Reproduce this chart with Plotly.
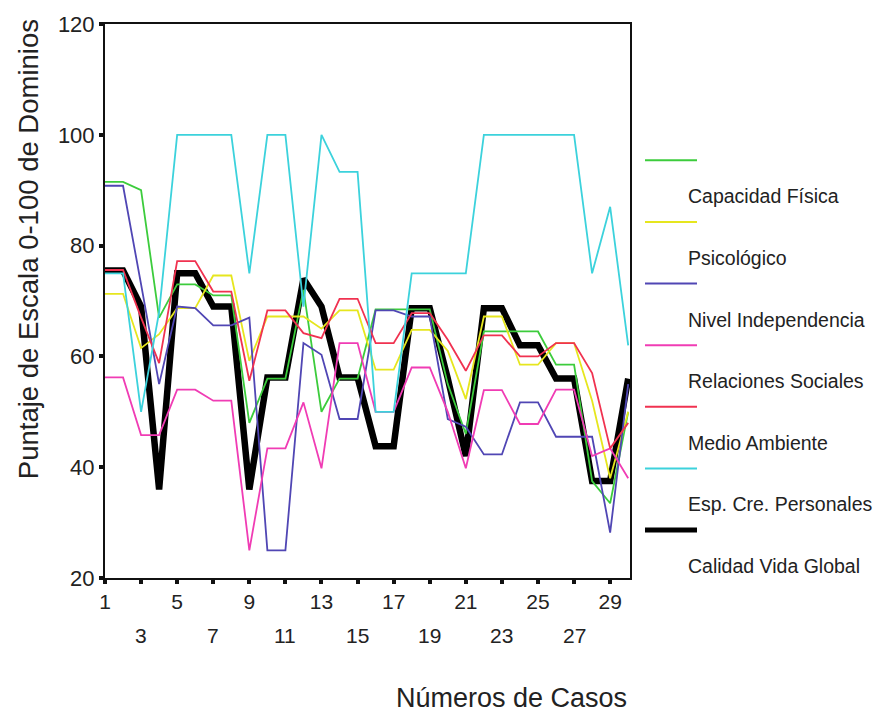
import plotly.graph_objects as go

cases = list(range(1, 31))

capacidad_fisica = [91.5, 91.5, 90, 67, 73, 73, 71, 71, 48, 56, 56, 72, 50, 56, 56,
                    68.5, 68.5, 68.5, 68.5, 55, 46, 64.5, 64.5, 64.5, 64.5, 58.5, 58.5, 37.5, 33.5, 50]
psicologico = [71.3, 71.3, 61.5, 64, 68.7, 68.7, 74.6, 74.6, 59.2, 67.2, 67.2, 67.2, 65, 68.3, 68.3,
               57.6, 57.6, 64.8, 64.8, 61, 52.3, 67.2, 67.2, 58.5, 58.5, 62.4, 62.4, 52, 38, 50]
nivel_independencia = [90.8, 90.8, 73, 55, 69, 68.7, 65.6, 65.6, 67, 25, 25, 62.4, 60.3, 48.7, 48.7,
                       68.3, 68.3, 67.2, 67.2, 48.7, 47.3, 42.3, 42.3, 51.7, 51.7, 45.5, 45.5, 45.5, 28.2, 55]
relaciones_sociales = [56.2, 56.2, 45.8, 45.8, 54, 54, 52, 52, 25, 43.4, 43.4, 51.7, 39.8, 62.4, 62.4,
                       50, 50, 58, 58, 50, 39.8, 53.9, 53.9, 47.8, 47.8, 54, 54, 42, 43.4, 38]
medio_ambiente = [75.6, 75.6, 67, 58.8, 77.2, 77.2, 71.7, 71.7, 55.6, 68.3, 68.3, 64.2, 63.3, 70.4, 70.4,
                  62.4, 62.4, 67.8, 67.8, 63, 57.4, 63.8, 63.8, 60, 60, 62.4, 62.4, 57, 43.4, 48]
esp_personales = [75, 75, 50, 68, 100, 100, 100, 100, 75, 100, 100, 69, 100, 93.3, 93.3,
                  50, 50, 75, 75, 75, 75, 100, 100, 100, 100, 100, 100, 75, 87, 62]
calidad_global = [75.5, 75.5, 69, 36, 75, 75, 69, 69, 36, 56.2, 56.2, 74, 69, 56.2, 56.2,
                  43.8, 43.8, 68.7, 68.7, 56, 42, 68.7, 68.7, 62, 62, 56, 56, 37.5, 37.5, 56]

series_names = ["Capacidad Física", "Psicológico", "Nivel Independencia", "Relaciones Sociales",
                "Medio Ambiente", "Esp. Cre. Personales", "Calidad Vida Global"]
series_values = [capacidad_fisica, psicologico, nivel_independencia, relaciones_sociales,
                 medio_ambiente, esp_personales, calidad_global]
series_colors = ["#3ccc3c", "#e6e61e", "#5046b4", "#f03cb4", "#f03250", "#3cd2dc", "#000000"]
series_widths = [1.8, 1.8, 1.8, 1.8, 1.8, 1.8, 6.5]

x_tick_vals = list(range(1, 30, 2))
x_tick_labels = [str(v) for v in x_tick_vals]
y_tick_vals = [20, 40, 60, 80, 100, 120]

FONT = "Arial, Liberation Sans, sans-serif"

fig = go.Figure()
# black (global) drawn first, coloured lines on top
draw_order = [6, 0, 1, 2, 3, 4, 5]
for i in draw_order:
    fig.add_trace(go.Scatter(x=cases, y=series_values[i], mode="lines", name=series_names[i],
                             line=dict(color=series_colors[i], width=series_widths[i]),
                             showlegend=False))

# plot geometry in px
L, R, T, B = 105, 630, 17, 578
W, H = R - L, B - T

def px_x(p):
    return (p - L) / W

def px_y(p):
    return (B - p) / H

annotations = []
shapes = []
# lower row of staggered x tick labels
upper_text = []
for k, (v, lab) in enumerate(zip(x_tick_vals, x_tick_labels)):
    if k % 2 == 0:
        upper_text.append(lab)
    else:
        upper_text.append("")
        annotations.append(dict(x=v, y=px_y(636), xref="x", yref="paper", text=lab,
                                showarrow=False, xanchor="center", yanchor="middle",
                                font=dict(size=21, color="#222", family=FONT)))

# axis titles
annotations.append(dict(x=px_x(28), y=px_y(245), xref="paper", yref="paper",
                        text="Puntaje de Escala 0-100 de Dominios", textangle=-90,
                        showarrow=False, xanchor="center", yanchor="middle",
                        font=dict(size=27.5, color="#222", family=FONT)))
annotations.append(dict(x=px_x(511), y=px_y(700), xref="paper", yref="paper",
                        text="Números de Casos", showarrow=False, xanchor="center",
                        yanchor="middle", font=dict(size=27, color="#222", family=FONT)))

# legend (line sample above name)
for i, (name, col, w) in enumerate(zip(series_names, series_colors, series_widths)):
    ly = 155 + 62.4 * i
    shapes.append(dict(type="line", xref="paper", yref="paper", x0=px_x(645), x1=px_x(697),
                       y0=px_y(ly), y1=px_y(ly), line=dict(color=col, width=2 if w < 3 else 5)))
    annotations.append(dict(x=px_x(686), y=px_y(ly + 36.5), xref="paper", yref="paper",
                            text=name, showarrow=False, xanchor="left", yanchor="middle",
                            font=dict(size=19.5, color="#222", family=FONT)))

fig.update_layout(
    width=890, height=717,
    margin=dict(l=L, r=890 - R, t=T, b=717 - B),
    plot_bgcolor="white", paper_bgcolor="white",
    showlegend=False,
    annotations=annotations, shapes=shapes,
    xaxis=dict(range=[1, 30.1], tickmode="array", tickvals=x_tick_vals, ticktext=upper_text,
               ticks="outside", ticklen=4, tickwidth=4, tickcolor="#111",
               showline=True, linecolor="#111", linewidth=2, mirror=True,
               showgrid=False, zeroline=False,
               tickfont=dict(size=21, color="#222", family=FONT)),
    yaxis=dict(range=[20, 120], tickmode="array", tickvals=y_tick_vals,
               ticks="outside", ticklen=4, tickwidth=4, tickcolor="#111",
               showline=True, linecolor="#111", linewidth=2, mirror=True,
               showgrid=False, zeroline=False,
               tickfont=dict(size=22, color="#222", family=FONT)),
)

fig.write_html("out.html", config={"displayModeBar": False},
               post_script="document.body.style.margin='0px';document.body.style.overflow='hidden';")
